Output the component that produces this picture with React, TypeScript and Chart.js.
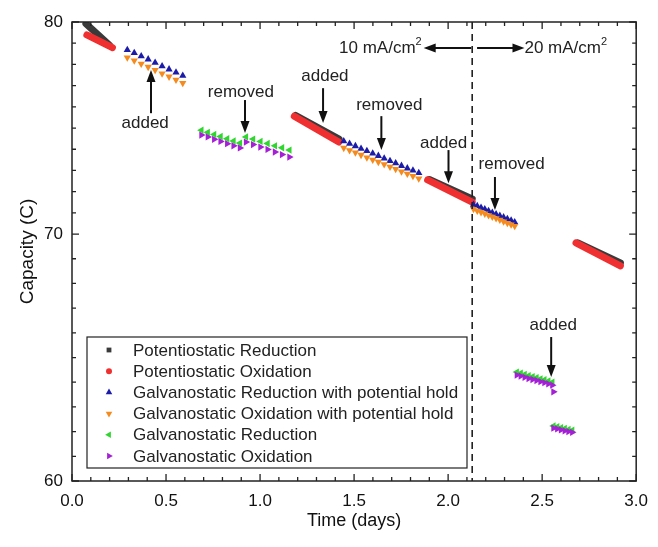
import React, { useEffect, useRef } from 'react';
import { Chart, registerables, LinearScale } from 'chart.js';
Chart.register(...registerables);

const FONT = "Arial, 'Liberation Sans', Helvetica, sans-serif";

// The reference y axis spends more height on 60-70 than on 70-80.
const Y_MIN = 60;
const Y_MID = 70;
const Y_MAX = 80;
const LOWER_SHARE = 0.538;

class SplitLinearScale extends (LinearScale as any) {
  static id = 'splitLinear';
  static defaults = {};
  getPixelForValue(value: number) {
    const d =
      value <= Y_MID
        ? ((value - Y_MIN) / (Y_MID - Y_MIN)) * LOWER_SHARE
        : LOWER_SHARE + ((value - Y_MID) / (Y_MAX - Y_MID)) * (1 - LOWER_SHARE);
    return (this as any).getPixelForDecimal(d);
  }
  getValueForPixel(pixel: number) {
    const d = (this as any).getDecimalForPixel(pixel);
    return d <= LOWER_SHARE
      ? Y_MIN + (d / LOWER_SHARE) * (Y_MID - Y_MIN)
      : Y_MID + ((d - LOWER_SHARE) / (1 - LOWER_SHARE)) * (Y_MAX - Y_MID);
  }
}
Chart.register(SplitLinearScale as any);

// ---- Potentiostatic segments (dense markers, drawn as thick strokes between start/end) ----
const potRedT0 = [0.074, 1.19, 1.9, 2.69];
const potRedT1 = [0.2, 1.42, 2.128, 2.916];
const potRedV0 = [79.92, 75.59, 72.57, 69.64];
const potRedV1 = [78.9, 74.48, 71.66, 68.83];

const potOxT0 = [0.079, 1.182, 1.891, 2.68];
const potOxT1 = [0.215, 1.419, 2.128, 2.916];
const potOxV0 = [79.39, 75.56, 72.55, 69.64];
const potOxV1 = [78.79, 74.34, 71.51, 68.71];

// ---- Galvanostatic with potential hold ----
const holdT = [
  0.294, 0.331, 0.368, 0.405, 0.442, 0.479, 0.516, 0.553, 0.589,
  1.445, 1.476, 1.507, 1.537, 1.568, 1.599, 1.629, 1.66, 1.691, 1.721, 1.752, 1.783, 1.813, 1.844,
  2.135, 2.155, 2.175, 2.195, 2.215, 2.235, 2.255, 2.275, 2.295, 2.315, 2.335, 2.354,
];
const holdRed = [
  78.68, 78.54, 78.39, 78.24, 78.08, 77.92, 77.77, 77.62, 77.47,
  74.38, 74.26, 74.15, 74.03, 73.92, 73.8, 73.69, 73.57, 73.45, 73.34, 73.22, 73.1, 73.0, 72.88,
  71.39, 71.32, 71.24, 71.17, 71.09, 71.01, 70.94, 70.86, 70.79, 70.71, 70.64, 70.56,
];
const holdOx = [
  78.32, 78.18, 78.03, 77.88, 77.73, 77.57, 77.42, 77.27, 77.12,
  74.06, 73.95, 73.84, 73.73, 73.61, 73.5, 73.4, 73.29, 73.17, 73.06, 72.95, 72.84, 72.73, 72.62,
  71.18, 71.1, 71.03, 70.96, 70.88, 70.81, 70.74, 70.67, 70.59, 70.52, 70.45, 70.38,
];

// ---- Galvanostatic (no hold) ----
const galvRedT = [
  0.688, 0.722, 0.756, 0.79, 0.825, 0.859, 0.893,
  0.925, 0.963, 1.002, 1.04, 1.079, 1.117, 1.156,
  2.365, 2.386, 2.407, 2.428, 2.449, 2.47, 2.491, 2.512, 2.533, 2.554,
  2.56, 2.58, 2.6, 2.62, 2.64, 2.66,
];
const galvRed = [
  74.9, 74.8, 74.7, 74.6, 74.5, 74.39, 74.29,
  74.58, 74.48, 74.37, 74.27, 74.16, 74.07, 73.96,
  64.41, 64.37, 64.32, 64.27, 64.23, 64.19, 64.14, 64.1, 64.05, 64.0,
  62.23, 62.2, 62.16, 62.13, 62.09, 62.06,
];
const galvOxT = [
  0.688, 0.722, 0.756, 0.79, 0.825, 0.859, 0.893,
  0.925, 0.963, 1.002, 1.04, 1.079, 1.117, 1.156,
  2.365, 2.386, 2.407, 2.428, 2.449, 2.47, 2.491, 2.512, 2.533, 2.554,
  2.56,
  2.56, 2.58, 2.6, 2.62, 2.64, 2.66,
];
const galvOx = [
  74.67, 74.58, 74.47, 74.37, 74.26, 74.16, 74.06,
  74.34, 74.22, 74.1, 73.99, 73.87, 73.75, 73.63,
  64.29, 64.25, 64.2, 64.15, 64.11, 64.07, 64.02, 63.98, 63.93, 63.88,
  63.61,
  62.14, 62.11, 62.07, 62.03, 62.0, 61.97,
];

// ---- Labels ----
const seriesNames = [
  'Potentiostatic Reduction',
  'Potentiostatic Oxidation',
  'Galvanostatic Reduction with potential hold',
  'Galvanostatic Oxidation with potential hold',
  'Galvanostatic Reduction',
  'Galvanostatic Oxidation',
];
const seriesColors = ['#3a3a3a', '#f03030', '#1c1ca8', '#f58b1f', '#2ed62e', '#a41fd6'];
const xTickValues = [0, 0.5, 1, 1.5, 2, 2.5, 3];
const yTickValues = [60, 70, 80];

// annotation texts with arrows (text pos, arrow x, arrow tail y, arrow tip y) in data units
const noteText = ['added', 'removed', 'added', 'removed', 'added', 'removed', 'added'];
const noteX = [0.389, 0.898, 1.345, 1.687, 1.976, 2.338, 2.559];
const noteY = [75.24, 76.7, 77.45, 76.08, 74.29, 73.3, 66.32];
const arrowX = [0.42, 0.92, 1.335, 1.645, 2.002, 2.249, 2.548];
const arrowTail = [75.7, 76.32, 76.88, 75.56, 73.96, 72.69, 65.83];
const arrowTip = [77.74, 74.76, 75.24, 73.96, 72.4, 71.13, 64.21];

const switchDay = 2.128;
const densityY = 78.77;

function seg(t0: number[], t1: number[], v0: number[], v1: number[]) {
  return t0.map((t, i) => [
    { x: t, y: v0[i] },
    { x: t1[i], y: v1[i] },
  ]);
}
function pts(t: number[], v: number[]) {
  return t.map((x, i) => ({ x, y: v[i] }));
}

function drawMarker(ctx: CanvasRenderingContext2D, kind: number, x: number, y: number, r: number, color: string) {
  ctx.save();
  ctx.fillStyle = color;
  ctx.beginPath();
  if (kind === 0) {
    ctx.rect(x - r * 0.8, y - r * 0.8, r * 1.6, r * 1.6);
  } else if (kind === 1) {
    ctx.arc(x, y, r, 0, Math.PI * 2);
  } else {
    const rotDeg = kind === 2 ? 0 : kind === 3 ? 180 : kind === 4 ? -90 : 90;
    let a = (rotDeg * Math.PI) / 180;
    ctx.moveTo(x + Math.sin(a) * r, y - Math.cos(a) * r);
    a += (2 * Math.PI) / 3;
    ctx.lineTo(x + Math.sin(a) * r, y - Math.cos(a) * r);
    a += (2 * Math.PI) / 3;
    ctx.lineTo(x + Math.sin(a) * r, y - Math.cos(a) * r);
    ctx.closePath();
  }
  ctx.fill();
  ctx.restore();
}

const overlayPlugin = {
  id: 'overlay',
  beforeDraw(chart: any) {
    const ctx = chart.ctx;
    ctx.save();
    ctx.fillStyle = '#ffffff';
    ctx.fillRect(0, 0, chart.width, chart.height);
    ctx.restore();
  },
  afterDraw(chart: any) {
    const ctx: CanvasRenderingContext2D = chart.ctx;
    const xs = chart.scales.x;
    const ys = chart.scales.y;
    const { left, right, top, bottom } = chart.chartArea;
    ctx.save();
    // frame
    ctx.strokeStyle = '#222';
    ctx.lineWidth = 1.5;
    ctx.strokeRect(left, top, right - left, bottom - top);
    // ticks
    ctx.lineWidth = 1.3;
    ctx.beginPath();
    for (let i = 0; i <= 30; i++) {
      const px = xs.getPixelForValue(i / 10);
      const len = i % 5 === 0 ? 7 : 4;
      ctx.moveTo(px, bottom);
      ctx.lineTo(px, bottom - len);
      ctx.moveTo(px, top);
      ctx.lineTo(px, top + len);
    }
    for (let v = 60; v <= 80; v++) {
      const py = ys.getPixelForValue(v);
      const len = v % 10 === 0 ? 7 : 4;
      ctx.moveTo(left, py);
      ctx.lineTo(left + len, py);
      ctx.moveTo(right, py);
      ctx.lineTo(right - len, py);
    }
    ctx.stroke();

    // dashed vertical line
    const dx = xs.getPixelForValue(switchDay);
    ctx.setLineDash([7, 5]);
    ctx.lineWidth = 1.6;
    ctx.beginPath();
    ctx.moveTo(dx, top);
    ctx.lineTo(dx, bottom);
    ctx.stroke();
    ctx.setLineDash([]);

    const arrow = (x0: number, y0: number, x1: number, y1: number) => {
      const ang = Math.atan2(y1 - y0, x1 - x0);
      const hl = 12;
      const hw = 4.5;
      ctx.strokeStyle = '#111';
      ctx.fillStyle = '#111';
      ctx.lineWidth = 2;
      ctx.beginPath();
      ctx.moveTo(x0, y0);
      ctx.lineTo(x1 - Math.cos(ang) * (hl - 2), y1 - Math.sin(ang) * (hl - 2));
      ctx.stroke();
      ctx.beginPath();
      ctx.moveTo(x1, y1);
      ctx.lineTo(x1 - Math.cos(ang) * hl - Math.sin(ang) * hw, y1 - Math.sin(ang) * hl + Math.cos(ang) * hw);
      ctx.lineTo(x1 - Math.cos(ang) * hl + Math.sin(ang) * hw, y1 - Math.sin(ang) * hl - Math.cos(ang) * hw);
      ctx.closePath();
      ctx.fill();
    };

    // annotations
    ctx.font = `17px ${FONT}`;
    ctx.textAlign = 'center';
    ctx.textBaseline = 'middle';
    noteText.forEach((t, i) => {
      ctx.fillStyle = '#222';
      ctx.fillText(t, xs.getPixelForValue(noteX[i]), ys.getPixelForValue(noteY[i]));
      arrow(
        xs.getPixelForValue(arrowX[i]),
        ys.getPixelForValue(arrowTail[i]),
        xs.getPixelForValue(arrowX[i]),
        ys.getPixelForValue(arrowTip[i])
      );
    });

    // current density labels
    const cy = ys.getPixelForValue(densityY);
    const leftTip = xs.getPixelForValue(1.87);
    const rightTip = xs.getPixelForValue(2.406);
    ctx.fillStyle = '#222';
    ctx.textBaseline = 'middle';
    ctx.textAlign = 'left';
    const base1 = '10 mA/cm';
    ctx.font = `11px ${FONT}`;
    const supW = ctx.measureText('2').width;
    ctx.font = `17px ${FONT}`;
    const w1 = ctx.measureText(base1).width;
    const start1 = leftTip - 2 - w1 - supW;
    ctx.fillText(base1, start1, cy);
    ctx.font = `11px ${FONT}`;
    ctx.fillText('2', start1 + w1, cy - 6);
    arrow(xs.getPixelForValue(2.123), cy, leftTip, cy);
    arrow(xs.getPixelForValue(2.154), cy, rightTip, cy);
    ctx.font = `17px ${FONT}`;
    ctx.fillStyle = '#222';
    const base2 = '20 mA/cm';
    const w2 = ctx.measureText(base2).width;
    ctx.fillText(base2, rightTip, cy);
    ctx.font = `11px ${FONT}`;
    ctx.fillText('2', rightTip + w2, cy - 6);

    // legend
    const lx0 = 87, ly0 = 337, lx1 = 467, ly1 = 468;
    ctx.fillStyle = '#fff';
    ctx.fillRect(lx0, ly0, lx1 - lx0, ly1 - ly0);
    ctx.strokeStyle = '#222';
    ctx.lineWidth = 1.2;
    ctx.strokeRect(lx0, ly0, lx1 - lx0, ly1 - ly0);
    ctx.font = `17px ${FONT}`;
    ctx.textAlign = 'left';
    ctx.textBaseline = 'middle';
    seriesNames.forEach((name, i) => {
      const y = 350 + i * 21.2;
      drawMarker(ctx, i, 109, y, i < 2 ? 3 : 3.8, seriesColors[i]);
      ctx.fillStyle = '#222';
      ctx.fillText(name, 133, y + 1);
    });
    ctx.restore();
  },
};

export default function App() {
  const ref = useRef<HTMLCanvasElement>(null);
  useEffect(() => {
    document.body.style.margin = '0';
    const datasets: any[] = [];
    // later series on top (lower order drawn last)
    seg(potRedT0, potRedT1, potRedV0, potRedV1).forEach((d) =>
      datasets.push({
        data: d, showLine: true, borderColor: seriesColors[0], borderWidth: 7,
        borderCapStyle: 'round', pointRadius: 0, order: 6,
      })
    );
    seg(potOxT0, potOxT1, potOxV0, potOxV1).forEach((d) =>
      datasets.push({
        data: d, showLine: true, borderColor: seriesColors[1], borderWidth: 7,
        borderCapStyle: 'round', pointRadius: 0, order: 5,
      })
    );
    datasets.push({
      data: pts(holdT, holdRed), pointStyle: 'triangle', rotation: 0, pointRadius: 4.2,
      backgroundColor: seriesColors[2], borderWidth: 0, order: 4,
    });
    datasets.push({
      data: pts(holdT, holdOx), pointStyle: 'triangle', rotation: 180, pointRadius: 4.2,
      backgroundColor: seriesColors[3], borderWidth: 0, order: 3,
    });
    datasets.push({
      data: pts(galvRedT, galvRed), pointStyle: 'triangle', rotation: -90, pointRadius: 4.2,
      backgroundColor: seriesColors[4], borderWidth: 0, order: 2,
    });
    datasets.push({
      data: pts(galvOxT, galvOx), pointStyle: 'triangle', rotation: 90, pointRadius: 4.2,
      backgroundColor: seriesColors[5], borderWidth: 0, order: 1,
    });

    const chart = new Chart(ref.current as HTMLCanvasElement, {
      type: 'scatter',
      data: { datasets },
      options: {
        animation: false,
        responsive: false,
        devicePixelRatio: 1,
        layout: { padding: { left: 0, top: 22, right: 15, bottom: 0 } },
        plugins: { legend: { display: false }, tooltip: { enabled: false } },
        scales: {
          x: {
            type: 'linear', min: 0, max: 3,
            afterFit: (s: any) => { s.height = 66; },
            afterBuildTicks: (s: any) => { s.ticks = xTickValues.map((v) => ({ value: v })); },
            ticks: {
              callback: (v: any) => Number(v).toFixed(1),
              font: { size: 17, family: FONT }, color: '#111', padding: 10, maxRotation: 0,
            },
            grid: { display: false, drawTicks: false },
            border: { display: false },
            title: {
              display: true, text: 'Time (days)', color: '#111',
              font: { size: 18, family: FONT }, padding: { top: 0, bottom: 15 },
            },
          },
          y: {
            type: 'splitLinear', min: Y_MIN, max: Y_MAX,
            afterFit: (s: any) => { s.width = 72; },
            afterBuildTicks: (s: any) => { s.ticks = yTickValues.map((v) => ({ value: v })); },
            ticks: { font: { size: 17, family: FONT }, color: '#111', padding: 9 },
            grid: { display: false, drawTicks: false },
            border: { display: false },
            title: {
              display: true, text: 'Capacity (C)', color: '#111',
              font: { size: 19, family: FONT }, padding: { top: 16, bottom: 0 },
            },
          },
        },
      },
      plugins: [overlayPlugin],
    } as any);
    return () => chart.destroy();
  }, []);
  return (
    <div style={{ width: 658, height: 547, background: '#fff' }}>
      <canvas ref={ref} width={658} height={547} style={{ display: 'block' }} />
    </div>
  );
}
